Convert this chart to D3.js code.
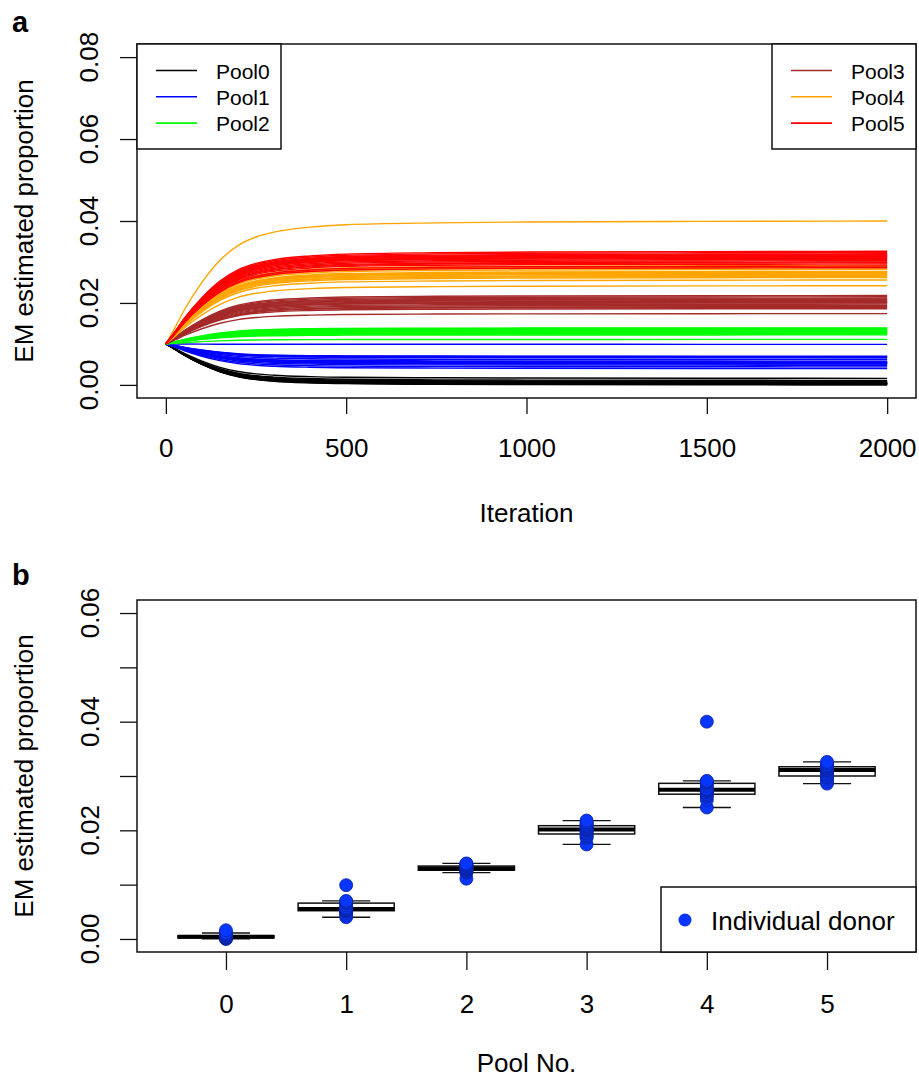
<!DOCTYPE html>
<html>
<head>
<meta charset="utf-8">
<style>
body { margin: 0; background: #fff; }
text { font-family: "Liberation Sans", Arial, sans-serif; fill: #000; }
</style>
</head>
<body>
<script src="https://d3js.org/d3.v7.min.js"></script>
<script>
// final EM proportion for each donor, per pool
var pool0 = [0.0000, 0.0001, 0.0001, 0.0002, 0.0002, 0.0003, 0.0003, 0.0003, 0.0004, 0.0004, 0.0005, 0.0005, 0.0006, 0.0007, 0.0009, 0.0011, 0.0016];
var pool1 = [0.0040, 0.0044, 0.0048, 0.0051, 0.0052, 0.0053, 0.0054, 0.0055, 0.0055, 0.0056, 0.0058, 0.0062, 0.0066, 0.0067, 0.0069, 0.0070, 0.0099];
var pool2 = [0.0111, 0.0122, 0.0124, 0.0125, 0.0127, 0.0128, 0.0129, 0.0129, 0.0130, 0.0131, 0.0132, 0.0134, 0.0135, 0.0136, 0.0138, 0.0139];
var pool3 = [0.0174, 0.0186, 0.0189, 0.0191, 0.0194, 0.0197, 0.0200, 0.0201, 0.0202, 0.0204, 0.0206, 0.0208, 0.0210, 0.0212, 0.0215, 0.0218];
var pool4 = [0.0242, 0.0256, 0.0262, 0.0265, 0.0267, 0.0270, 0.0272, 0.0274, 0.0275, 0.0277, 0.0282, 0.0286, 0.0288, 0.0290, 0.0291, 0.0400];
var pool5 = [0.0286, 0.0290, 0.0295, 0.0298, 0.0300, 0.0303, 0.0306, 0.0309, 0.0311, 0.0312, 0.0314, 0.0315, 0.0317, 0.0318, 0.0320, 0.0323, 0.0326];

var poolNames = ['Pool0', 'Pool1', 'Pool2', 'Pool3', 'Pool4', 'Pool5'];
var poolNos = ['0', '1', '2', '3', '4', '5'];
var poolColors = ['#000000', '#0000ff', '#00ff00', '#a52a2a', '#ffa500', '#ff0000'];

// start value of every run and how far along each run is at these iterations
var startValue = 0.01;
var iterSteps = [0, 25, 50, 100, 150, 200, 250, 300, 400, 500, 750, 1000, 1500, 2000];
var progress  = [0, 0.13, 0.27, 0.5, 0.68, 0.8, 0.87, 0.91, 0.95, 0.97, 0.985, 0.992, 0.997, 1];

var xTicksTop = [0, 500, 1000, 1500, 2000];
var yTicksTop = [0, 0.02, 0.04, 0.06, 0.08];
var yTicksBot = [0, 0.01, 0.02, 0.03, 0.04, 0.05, 0.06];
var yLabelsBot = [0, 0.02, 0.04, 0.06];

var pools = [pool0, pool1, pool2, pool3, pool4, pool5];

var width = 919, height = 1080;
var svg = d3.select('body').append('svg')
  .attr('width', width).attr('height', height);

var box = { left: 137, right: 916 };

// ---------- panel a ----------
var topY0 = 44, topY1 = 398;
var xA = d3.scaleLinear().domain([-80, 2080]).range([box.left, box.right]);
var yA = d3.scaleLinear().domain([-0.0032, 0.0832]).range([topY1, topY0]);

var line = d3.line()
  .x(function(d) { return xA(d[0]); })
  .y(function(d) { return yA(d[1]); })
  .curve(d3.curveMonotoneX);

var gLines = svg.append('g');
pools.forEach(function(vals, p) {
  vals.forEach(function(fin) {
    var pts = iterSteps.map(function(it, k) {
      return [it, startValue + (fin - startValue) * progress[k]];
    });
    gLines.append('path')
      .attr('d', line(pts))
      .attr('fill', 'none')
      .attr('stroke', poolColors[p])
      .attr('stroke-width', 1.4);
  });
});

svg.append('rect')
  .attr('x', box.left).attr('y', topY0)
  .attr('width', box.right - box.left).attr('height', topY1 - topY0)
  .attr('fill', 'none').attr('stroke', '#111').attr('stroke-width', 1.5);

// x axis
var axA = svg.append('g').attr('transform', 'translate(0,' + topY1 + ')')
  .call(d3.axisBottom(xA).tickValues(xTicksTop).tickSize(16).tickSizeOuter(0).tickPadding(0).tickFormat(function(d){ return d; }));
axA.select('.domain').remove();
axA.selectAll('line').attr('stroke', '#111').attr('stroke-width', 1.3);
axA.selectAll('text').attr('font-size', 26).attr('y', 59).attr('dy', 0)
  .attr('font-family', '"Liberation Sans", Arial, sans-serif').attr('fill', '#000');

// y axis
var ayA = svg.append('g').attr('transform', 'translate(' + box.left + ',0)')
  .call(d3.axisLeft(yA).tickValues(yTicksTop).tickSize(17).tickSizeOuter(0).tickFormat(d3.format('.2f')));
ayA.select('.domain').remove();
ayA.selectAll('line').attr('stroke', '#111').attr('stroke-width', 1.3);
ayA.selectAll('text').remove();
yTicksTop.forEach(function(t) {
  svg.append('text')
    .attr('transform', 'translate(98,' + yA(t) + ') rotate(-90)')
    .attr('text-anchor', 'middle').attr('font-size', 26)
    .text(d3.format('.2f')(t));
});

svg.append('text').attr('x', (box.left + box.right) / 2).attr('y', 522)
  .attr('text-anchor', 'middle').attr('font-size', 26).text('Iteration');
svg.append('text')
  .attr('transform', 'translate(33,' + ((topY0 + topY1) / 2) + ') rotate(-90)')
  .attr('text-anchor', 'middle').attr('font-size', 26).text('EM estimated proportion');
svg.append('text').attr('x', 12).attr('y', 32)
  .attr('font-size', 29).attr('font-weight', 'bold').text('a');

// legends
function lineLegend(x0, x1, entries) {
  var g = svg.append('g');
  g.append('rect').attr('x', x0).attr('y', topY0)
    .attr('width', x1 - x0).attr('height', 105)
    .attr('fill', '#fff').attr('stroke', '#111').attr('stroke-width', 1.5);
  entries.forEach(function(p, i) {
    var cy = 70.5 + i * 26.3;
    g.append('line').attr('x1', x0 + 19).attr('x2', x0 + 60)
      .attr('y1', cy).attr('y2', cy)
      .attr('stroke', poolColors[p]).attr('stroke-width', 1.6);
    g.append('text').attr('x', x0 + 79).attr('y', cy + 8)
      .attr('font-size', 21).text(poolNames[p]);
  });
}
lineLegend(box.left, 281, [0, 1, 2]);
lineLegend(772, box.right, [3, 4, 5]);

// ---------- panel b ----------
var botY0 = 600, botY1 = 952;
var xB = d3.scaleLinear().domain([0.26, 6.74]).range([box.left, box.right]);
var yB = d3.scaleLinear().domain([-0.0024, 0.0624]).range([botY1, botY0]);
var boxHalf = (xB(1.4) - xB(1));
var capHalf = (xB(1.2) - xB(1));

pools.forEach(function(vals, p) {
  var s = vals.slice().sort(d3.ascending);
  var q1 = d3.quantile(s, 0.25), med = d3.quantile(s, 0.5), q3 = d3.quantile(s, 0.75);
  var iqr = q3 - q1;
  var lo = d3.min(s.filter(function(v) { return v >= q1 - 1.5 * iqr; }));
  var hi = d3.max(s.filter(function(v) { return v <= q3 + 1.5 * iqr; }));
  var cx = xB(p + 1);
  var g = svg.append('g');
  g.append('line').attr('x1', cx).attr('x2', cx).attr('y1', yB(hi)).attr('y2', yB(q3))
    .attr('stroke', '#111').attr('stroke-width', 1.3).attr('stroke-dasharray', '4,3');
  g.append('line').attr('x1', cx).attr('x2', cx).attr('y1', yB(q1)).attr('y2', yB(lo))
    .attr('stroke', '#111').attr('stroke-width', 1.3).attr('stroke-dasharray', '4,3');
  [lo, hi].forEach(function(v) {
    g.append('line').attr('x1', cx - capHalf).attr('x2', cx + capHalf)
      .attr('y1', yB(v)).attr('y2', yB(v)).attr('stroke', '#111').attr('stroke-width', 1.3);
  });
  g.append('rect').attr('x', cx - boxHalf).attr('y', yB(q3))
    .attr('width', boxHalf * 2).attr('height', yB(q1) - yB(q3))
    .attr('fill', '#fff').attr('stroke', '#111').attr('stroke-width', 1.5);
  g.append('line').attr('x1', cx - boxHalf).attr('x2', cx + boxHalf)
    .attr('y1', yB(med)).attr('y2', yB(med)).attr('stroke', '#000').attr('stroke-width', 4);
});

var gDots = svg.append('g');
pools.forEach(function(vals, p) {
  gDots.selectAll(null).data(vals).enter().append('circle')
    .attr('cx', xB(p + 1)).attr('cy', function(d) { return yB(d); })
    .attr('r', 6.5)
    .attr('fill', '#0836ff').attr('stroke', '#0a2299').attr('stroke-width', 0.8);
});

svg.append('rect')
  .attr('x', box.left).attr('y', botY0)
  .attr('width', box.right - box.left).attr('height', botY1 - botY0)
  .attr('fill', 'none').attr('stroke', '#111').attr('stroke-width', 1.5);

var axB = svg.append('g').attr('transform', 'translate(0,' + botY1 + ')')
  .call(d3.axisBottom(xB).tickValues([1, 2, 3, 4, 5, 6]).tickSize(18).tickSizeOuter(0)
    .tickFormat(function(d) { return poolNos[d - 1]; }));
axB.select('.domain').remove();
axB.selectAll('line').attr('stroke', '#111').attr('stroke-width', 1.3);
axB.selectAll('text').attr('font-size', 26).attr('y', 61).attr('dy', 0)
  .attr('font-family', '"Liberation Sans", Arial, sans-serif').attr('fill', '#000');

var ayB = svg.append('g').attr('transform', 'translate(' + box.left + ',0)')
  .call(d3.axisLeft(yB).tickValues(yTicksBot).tickSize(17).tickSizeOuter(0));
ayB.select('.domain').remove();
ayB.selectAll('line').attr('stroke', '#111').attr('stroke-width', 1.3);
ayB.selectAll('text').remove();
yLabelsBot.forEach(function(t) {
  svg.append('text')
    .attr('transform', 'translate(99,' + yB(t) + ') rotate(-90)')
    .attr('text-anchor', 'middle').attr('font-size', 26)
    .text(d3.format('.2f')(t));
});

svg.append('text').attr('x', (box.left + box.right) / 2).attr('y', 1072)
  .attr('text-anchor', 'middle').attr('font-size', 26).text('Pool No.');
svg.append('text')
  .attr('transform', 'translate(33,' + ((botY0 + botY1) / 2) + ') rotate(-90)')
  .attr('text-anchor', 'middle').attr('font-size', 26).text('EM estimated proportion');
svg.append('text').attr('x', 12).attr('y', 585)
  .attr('font-size', 29).attr('font-weight', 'bold').text('b');

// legend b
var lg = svg.append('g');
lg.append('rect').attr('x', 661).attr('y', 887)
  .attr('width', box.right - 661).attr('height', botY1 - 887)
  .attr('fill', '#fff').attr('stroke', '#111').attr('stroke-width', 1.5);
lg.append('circle').attr('cx', 685).attr('cy', 920).attr('r', 6.5).attr('fill', '#0836ff');
lg.append('text').attr('x', 711).attr('y', 930).attr('font-size', 26).text('Individual donor');
</script>
</body>
</html>
